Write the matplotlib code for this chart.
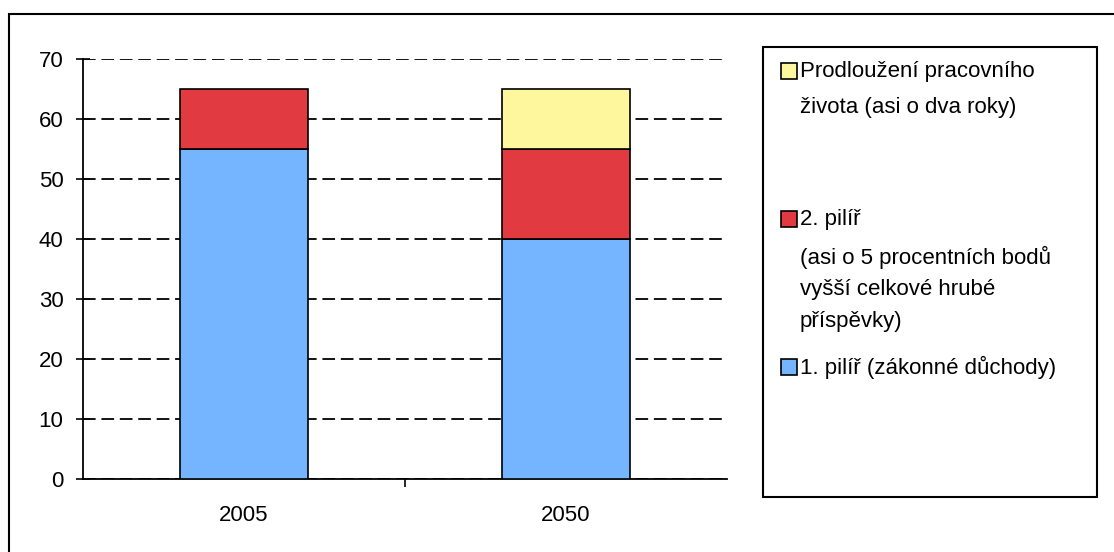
import matplotlib.pyplot as plt
from matplotlib.patches import Rectangle
import numpy as np

plt.rcParams['font.family'] = ['Liberation Sans', 'DejaVu Sans']

years = ["2005", "2050"]
pillar1 = [55, 40]   # 1. pilíř (zákonné důchody)
pillar2 = [10, 15]   # 2. pilíř
longer_work = [0, 10]  # prodloužení pracovního života

c_blue = "#75B4FF"
c_red = "#E23A41"
c_yellow = "#FFF79E"
fs = 16

fig = plt.figure(figsize=(11.14, 5.52), dpi=100)
W, H = 1114, 552
ax = fig.add_axes([83 / W, (H - 479) / H, 644 / W, 420 / H])

x = np.arange(len(years))
width = 0.4
ax.bar(x, pillar1, width, color=c_blue, edgecolor="black", linewidth=1.2, zorder=3)
ax.bar(x, pillar2, width, bottom=pillar1, color=c_red, edgecolor="black", linewidth=1.2, zorder=3)
bottom2 = np.array(pillar1) + np.array(pillar2)
ax.bar(x[1:], longer_work[1:], width, bottom=bottom2[1:], color=c_yellow,
       edgecolor="black", linewidth=1.2, zorder=3)

ax.set_xlim(-0.5, 1.5)
ax.set_ylim(0, 70)
ax.set_yticks(range(0, 71, 10))
ax.yaxis.grid(True, color="black", linestyle=(0, (7, 3.2)), linewidth=1.3)
ax.set_axisbelow(True)

ax.set_xticks([0.5])
ax.set_xticklabels([""])
ax.set_xticks(x, minor=True)
ax.set_xticklabels(years, minor=True)
ax.tick_params(axis="x", which="major", length=6, width=1.2, direction="out")
ax.tick_params(axis="x", which="minor", length=0, pad=19, labelsize=fs)
ax.tick_params(axis="y", direction="inout", length=10, width=1.2, pad=9, labelsize=fs)

for s in ["top", "right"]:
    ax.spines[s].set_visible(False)
for s in ["left", "bottom"]:
    ax.spines[s].set_linewidth(1.3)

# outer frame
fig.add_artist(Rectangle((9 / W, -0.05), 1.2, (H - 14) / H + 0.05,
                         transform=fig.transFigure, fill=False,
                         edgecolor="black", linewidth=1.5, clip_on=False))

# legend box
lx0, lx1, ly0, ly1 = 763, 1097, 47, 497
fig.add_artist(Rectangle((lx0 / W, (H - ly1) / H), (lx1 - lx0) / W, (ly1 - ly0) / H,
                         transform=fig.transFigure, fill=False,
                         edgecolor="black", linewidth=1.5))

entries = [
    (c_yellow, [("Prodloužení pracovního", 71), ("života (asi o dva roky)", 108)]),
    (c_red, [("2. pilíř", 219), ("(asi o 5 procentních bodů", 257),
             ("vyšší celkové hrubé", 289), ("příspěvky)", 321)]),
    (c_blue, [("1. pilíř (zákonné důchody)", 367)]),
]
for col, lines in entries:
    yc = lines[0][1]
    fig.add_artist(Rectangle((781 / W, (H - yc - 8) / H), 16 / W, 16 / H,
                             transform=fig.transFigure, facecolor=col,
                             edgecolor="black", linewidth=1.2))
    for txt, yy in lines:
        fig.text(800 / W, (H - yy) / H, txt, fontsize=fs, va="center", ha="left")

fig.savefig("out.png", dpi=100)
